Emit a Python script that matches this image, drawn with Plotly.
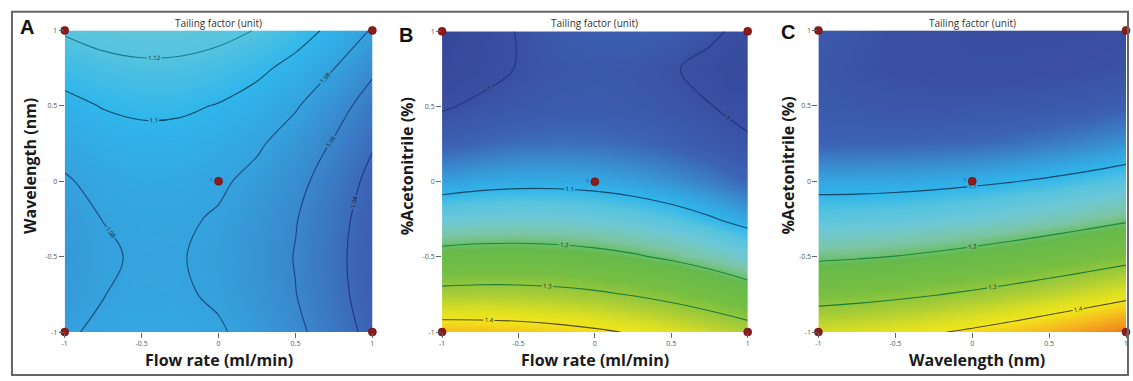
import plotly.graph_objects as go

# coded factor levels of the response-surface grid
grid_x = [-1, -0.75, -0.5, -0.25, 0, 0.25, 0.5, 0.75, 1]
grid_y = [-1, -0.75, -0.5, -0.25, 0, 0.25, 0.5, 0.75, 1]

# Panel A: Tailing factor vs Flow rate (x) and Wavelength (y); rows = y from -1 to 1
tf_A = [
    [1.0776, 1.0835, 1.0862, 1.0856, 1.0817, 1.0746, 1.0642, 1.0506, 1.0338],
    [1.0738, 1.0797, 1.0824, 1.0818, 1.0779, 1.0708, 1.0604, 1.0468, 1.0300],
    [1.0727, 1.0786, 1.0813, 1.0807, 1.0768, 1.0697, 1.0593, 1.0457, 1.0289],
    [1.0743, 1.0802, 1.0829, 1.0823, 1.0784, 1.0713, 1.0609, 1.0473, 1.0305],
    [1.0785, 1.0844, 1.0871, 1.0865, 1.0826, 1.0755, 1.0651, 1.0515, 1.0347],
    [1.0854, 1.0913, 1.0940, 1.0934, 1.0895, 1.0824, 1.0720, 1.0584, 1.0416],
    [1.0950, 1.1009, 1.1036, 1.1030, 1.0991, 1.0920, 1.0816, 1.0680, 1.0512],
    [1.1073, 1.1132, 1.1159, 1.1153, 1.1114, 1.1043, 1.0939, 1.0803, 1.0635],
    [1.1222, 1.1281, 1.1308, 1.1302, 1.1263, 1.1192, 1.1088, 1.0952, 1.0784],
]

# Panel B: Tailing factor vs Flow rate (x) and %Acetonitrile (y)
tf_B = [
    [1.4379, 1.4357, 1.4304, 1.4218, 1.4100, 1.3950, 1.3768, 1.3555, 1.3309],
    [1.3220, 1.3252, 1.3243, 1.3192, 1.3100, 1.2966, 1.2791, 1.2574, 1.2315],
    [1.2234, 1.2280, 1.2286, 1.2253, 1.2180, 1.2068, 1.1916, 1.1725, 1.1494],
    [1.1420, 1.1479, 1.1500, 1.1484, 1.1431, 1.1341, 1.1213, 1.1048, 1.0845],
    [1.0779, 1.0851, 1.0888, 1.0890, 1.0856, 1.0787, 1.0683, 1.0544, 1.0369],
    [1.0310, 1.0395, 1.0448, 1.0467, 1.0453, 1.0406, 1.0325, 1.0212, 1.0065],
    [0.9956, 1.0080, 1.0166, 1.0213, 1.0222, 1.0192, 1.0123, 1.0015, 0.9869],
    [0.9615, 0.9852, 1.0023, 1.0127, 1.0164, 1.0135, 1.0039, 0.9876, 0.9647],
    [0.9463, 0.9783, 1.0025, 1.0191, 1.0280, 1.0292, 1.0228, 1.0086, 0.9868],
]

# Panel C: Tailing factor vs Wavelength (x) and %Acetonitrile (y)
tf_C = [
    [1.3669, 1.3732, 1.3824, 1.3947, 1.4100, 1.4283, 1.4496, 1.4738, 1.5011],
    [1.2697, 1.2770, 1.2861, 1.2971, 1.3100, 1.3247, 1.3413, 1.3598, 1.3801],
    [1.1903, 1.1948, 1.2010, 1.2092, 1.2191, 1.2308, 1.2444, 1.2598, 1.2770],
    [1.1284, 1.1304, 1.1341, 1.1395, 1.1466, 1.1553, 1.1659, 1.1780, 1.1918],
    [1.0843, 1.0842, 1.0855, 1.0883, 1.0926, 1.0983, 1.1055, 1.1142, 1.1244],
    [1.0350, 1.0360, 1.0370, 1.0380, 1.0400, 1.0450, 1.0520, 1.0600, 1.0700],
    [1.0200, 1.0150, 1.0120, 1.0120, 1.0130, 1.0150, 1.0180, 1.0220, 1.0300],
    [1.0150, 1.0050, 1.0000, 0.9950, 0.9930, 0.9930, 0.9950, 1.0000, 1.0050],
    [1.0200, 1.0100, 1.0000, 0.9950, 0.9900, 0.9900, 0.9900, 0.9900, 0.9950],
]

# contour levels drawn in each panel
levels_A = [1.04, 1.06, 1.08, 1.1, 1.12]
levels_B = [1.0, 1.1, 1.2, 1.3, 1.4]
levels_C = [1.1, 1.2, 1.3, 1.4]

# design points (coded)
design_x = [-1, -1, 1, 1, 0]
design_y = [-1, 1, -1, 1, 0]
design_txt = ["", "", "", "", "5"]

tick_vals = [-1, -0.5, 0, 0.5, 1]
tick_text = ["-1", "-0.5", "0", "0.5", "1"]

x_titles = ["Flow rate (ml/min)", "Flow rate (ml/min)", "Wavelength (nm)"]
y_titles = ["Wavelength (nm)", "%Acetonitrile (%)", "%Acetonitrile (%)"]
panel_letters = ["A", "B", "C"]
panel_title = "Tailing factor (unit)"

ZMIN, ZMAX = 0.95, 1.52
fill_scale = [
    [0.000, "#36479a"],
    [0.088, "#3a50a2"],
    [0.149, "#3c62b4"],
    [0.193, "#3a86cd"],
    [0.228, "#35a2de"],
    [0.263, "#30b6ec"],
    [0.298, "#55c3df"],
    [0.340, "#6cc8d8"],
    [0.400, "#7cc6a6"],
    [0.456, "#66ba4c"],
    [0.561, "#78bf42"],
    [0.649, "#a6cc38"],
    [0.737, "#dde023"],
    [0.789, "#f2e51a"],
    [0.850, "#f5c01e"],
    [0.930, "#f2901e"],
    [1.000, "#ea4a1c"],
]


def line_color(level):
    if level < 1.05:
        return "#22357e"
    if level < 1.07:
        return "#1f4380"
    if level < 1.09:
        return "#1d4a7a"
    if level < 1.11:
        return "#174766"
    if level < 1.15:
        return "#1a7d8a"
    if level < 1.25:
        return "#168a3c"
    if level < 1.35:
        return "#1b7a34"
    return "#4e4e1c"


W, H = 1133, 381
# plot boxes in pixels (left, right, top, bottom)
boxes = [(62, 371, 26, 335), (441, 748, 27, 335), (819, 1128, 26, 335)]
ytitle_x = [27, 406, 789]
letter_pos = [(24, 23), (405, 31), (788, 28)]


def px(x):
    return x / W


def py(y):
    return (H - y) / H


fig = go.Figure()
datasets = [tf_A, tf_B, tf_C]
levels = [levels_A, levels_B, levels_C]

for i in range(3):
    xa = "x" if i == 0 else f"x{i+1}"
    ya = "y" if i == 0 else f"y{i+1}"
    z = datasets[i]
    lv = levels[i]
    fig.add_trace(go.Contour(
        x=grid_x, y=grid_y, z=z, xaxis=xa, yaxis=ya,
        zauto=False, zmin=ZMIN, zmax=ZMAX, colorscale=fill_scale,
        contours=dict(coloring="heatmap", start=lv[0], end=lv[-1],
                      size=round(lv[1] - lv[0], 4), showlines=False),
        line=dict(width=0), showscale=False, hoverinfo="skip",
    ))
    for level in lv:
        fig.add_trace(go.Contour(
            x=grid_x, y=grid_y, z=z, xaxis=xa, yaxis=ya,
            contours=dict(coloring="none", start=level, end=level, size=1,
                          showlabels=True,
                          labelfont=dict(size=6, color="#1a1a1a", family="Open Sans")),
            line=dict(width=1.1, smoothing=1.0, color=line_color(level)),
            showscale=False, hoverinfo="skip",
        ))
    fig.add_trace(go.Scatter(
        x=design_x, y=design_y, xaxis=xa, yaxis=ya, mode="markers+text",
        text=design_txt, textposition="middle left",
        textfont=dict(size=5, color="#3355aa"),
        marker=dict(size=8, color="#8e1a1a", line=dict(width=0.6, color="#5a0e0e")),
        cliponaxis=False, hoverinfo="skip", showlegend=False,
    ))

layout = dict(
    width=W, height=H, margin=dict(l=0, r=0, t=0, b=0),
    paper_bgcolor="white", plot_bgcolor="white", showlegend=False,
    font=dict(family="Open Sans", color="#333333"),
)
annotations = []
for i, (l, r, t, b) in enumerate(boxes):
    sx = "" if i == 0 else str(i + 1)
    axis_common = dict(range=[-1, 1], tickvals=tick_vals, ticktext=tick_text,
                       ticks="outside", ticklen=5, tickwidth=1, tickcolor="#666666",
                       tickfont=dict(size=7, color="#555555"), showgrid=False,
                       zeroline=False, showline=False, fixedrange=True)
    layout["xaxis" + sx] = dict(domain=[px(l), px(r)], anchor="y" + sx, **axis_common)
    layout["yaxis" + sx] = dict(domain=[py(b), py(t)], anchor="x" + sx, **axis_common)
    cx = (l + r) / 2
    annotations.append(dict(x=px(cx + (5 if i == 2 else 0)), y=py(364), xref="paper", yref="paper",
                            text="<b>" + x_titles[i] + "</b>", showarrow=False,
                            font=dict(size=16, color="#1a1a1a", family="Open Sans"),
                            xanchor="center", yanchor="middle"))
    annotations.append(dict(x=px(ytitle_x[i]), y=py(165), xref="paper", yref="paper",
                            text="<b>" + y_titles[i] + "</b>", showarrow=False, textangle=-90,
                            font=dict(size=16, color="#1a1a1a", family="Open Sans"),
                            xanchor="center", yanchor="middle"))
    annotations.append(dict(x=px(cx), y=py(18), xref="paper", yref="paper",
                            text=panel_title, showarrow=False,
                            font=dict(size=10, color="#333333", family="Open Sans"),
                            xanchor="center", yanchor="middle"))
    lx, ly = letter_pos[i]
    annotations.append(dict(x=px(lx), y=py(ly), xref="paper", yref="paper",
                            text="<b>" + panel_letters[i] + "</b>", showarrow=False,
                            font=dict(size=20, color="#111111", family="Liberation Sans"),
                            xanchor="center", yanchor="middle"))
layout["annotations"] = annotations
layout["shapes"] = [dict(type="rect", xref="paper", yref="paper",
                         x0=px(9), x1=px(1130), y0=py(379), y1=py(7),
                         line=dict(color="#666666", width=2), fillcolor="rgba(0,0,0,0)")]
fig.update_layout(**layout)
fig.write_html("out.html", config={"displayModeBar": False},
               post_script="document.body.style.margin='0';document.body.style.overflow='hidden';")
